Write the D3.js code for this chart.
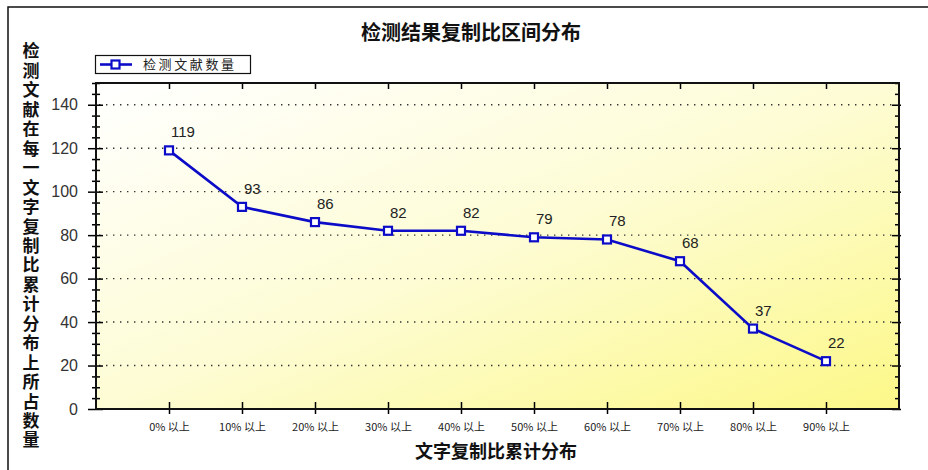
<!DOCTYPE html>
<html>
<head>
<meta charset="utf-8">
<script src="https://cdn.jsdelivr.net/npm/d3@7"></script>
<style>
  body { margin: 0; background: #fff; }
  svg { display: block; }
  text { font-family: "Liberation Sans", Arial, sans-serif; }
  .cjk { font-family: "Noto Sans CJK SC", sans-serif; }
</style>
</head>
<body>
<div id="chart"></div>
<script>
// Data
var categories = ["0% 以上", "10% 以上", "20% 以上", "30% 以上", "40% 以上",
                  "50% 以上", "60% 以上", "70% 以上", "80% 以上", "90% 以上"];
var counts = [119, 93, 86, 82, 82, 79, 78, 68, 37, 22];
var yTicks = [0, 20, 40, 60, 80, 100, 120, 140];
var seriesName = "检测文献数量";
var chartTitle = "检测结果复制比区间分布";
var xTitle = "文字复制比累计分布";
var yTitle = "检测文献在每一文字复制比累计分布上所占数量";

var width = 928, height = 470;
var plot = { left: 96, right: 899, top: 83, bottom: 409 };
var blue = "#0c0cc8";

var svg = d3.select("#chart").append("svg")
  .attr("width", width)
  .attr("height", height);

// outer frame (only left/top edges visible in the crop)
svg.append("rect")
  .attr("x", 8).attr("y", 7)
  .attr("width", width).attr("height", height)
  .attr("fill", "#fff")
  .attr("stroke", "#111")
  .attr("stroke-width", 1.5);

// background gradient of the plot area
var grad = svg.append("defs").append("linearGradient")
  .attr("id", "bg")
  .attr("x1", 0).attr("y1", 0).attr("x2", 1).attr("y2", 1);
grad.append("stop").attr("offset", "0%").attr("stop-color", "#ffffff");
grad.append("stop").attr("offset", "50%").attr("stop-color", "#fdfcd4");
grad.append("stop").attr("offset", "100%").attr("stop-color", "#fcf888");

svg.append("rect")
  .attr("x", plot.left).attr("y", plot.top)
  .attr("width", plot.right - plot.left)
  .attr("height", plot.bottom - plot.top)
  .attr("fill", "url(#bg)");

// scales
var x = d3.scalePoint()
  .domain(categories)
  .range([plot.left, plot.right])
  .padding(1);

var y = d3.scaleLinear()
  .domain([0, 150])
  .range([plot.bottom, plot.top]);

// dotted grid lines
svg.append("g").selectAll("line")
  .data(yTicks.filter(function(d) { return d > 0; }))
  .enter().append("line")
    .attr("x1", plot.left + 3).attr("x2", plot.right - 3)
    .attr("y1", function(d) { return y(d); })
    .attr("y2", function(d) { return y(d); })
    .attr("stroke", "#333")
    .attr("stroke-width", 1.4)
    .attr("stroke-dasharray", "1.4,5.6");

// left axis: major + minor ticks crossing the line
var minorTicks = d3.range(0, 151, 5).filter(function(d) { return d % 20 !== 0; });

var leftMinor = svg.append("g")
  .attr("transform", "translate(" + plot.left + ",0)")
  .call(d3.axisLeft(y).tickValues(minorTicks).tickFormat("").tickSize(4));
leftMinor.selectAll(".tick line").attr("x1", 4).attr("stroke-width", 1.5);
leftMinor.select(".domain").remove();

var leftAxis = svg.append("g")
  .attr("transform", "translate(" + plot.left + ",0)")
  .call(d3.axisLeft(y).tickValues(yTicks).tickSize(8).tickPadding(10));
leftAxis.selectAll(".tick line").attr("x1", 7).attr("stroke-width", 1.5);
leftAxis.select(".domain").remove();
leftAxis.selectAll(".tick text")
  .attr("font-size", 16)
  .attr("fill", "#333")
  .attr("font-family", "Liberation Sans, Arial, sans-serif");

// right axis: inward ticks
var rightMinor = svg.append("g")
  .attr("transform", "translate(" + plot.right + ",0)")
  .call(d3.axisRight(y).tickValues(minorTicks).tickFormat("").tickSize(-4));
rightMinor.select(".domain").remove();
rightMinor.selectAll(".tick line").attr("x1", 1).attr("stroke-width", 1.5);

var rightAxis = svg.append("g")
  .attr("transform", "translate(" + plot.right + ",0)")
  .call(d3.axisRight(y).tickValues(yTicks).tickFormat("").tickSize(-7));
rightAxis.select(".domain").remove();
rightAxis.selectAll(".tick line").attr("x1", 2).attr("stroke-width", 1.5);

// top axis: ticks pointing down
var topAxis = svg.append("g")
  .attr("transform", "translate(0," + plot.top + ")")
  .call(d3.axisTop(x).tickFormat("").tickSize(-6));
topAxis.select(".domain").remove();
topAxis.selectAll(".tick line").attr("stroke-width", 1.5);

// bottom axis: ticks crossing the line
var bottomAxis = svg.append("g")
  .attr("transform", "translate(0," + plot.bottom + ")")
  .call(d3.axisBottom(x).tickSize(5).tickPadding(9));
bottomAxis.select(".domain").remove();
bottomAxis.selectAll(".tick line").attr("y1", -7).attr("stroke-width", 1.5);
bottomAxis.selectAll(".tick text")
  .attr("class", "cjk")
  .attr("font-size", 11)
  .attr("fill", "#222")
  .attr("font-family", "Noto Sans CJK SC, sans-serif");

// plot frame
svg.append("rect")
  .attr("x", plot.left).attr("y", plot.top)
  .attr("width", plot.right - plot.left)
  .attr("height", plot.bottom - plot.top)
  .attr("fill", "none")
  .attr("stroke", "#111")
  .attr("stroke-width", 2);

// series line
var line = d3.line()
  .x(function(d, i) { return x(categories[i]); })
  .y(function(d) { return y(d); });

svg.append("path")
  .datum(counts)
  .attr("d", line)
  .attr("fill", "none")
  .attr("stroke", blue)
  .attr("stroke-width", 2.6);

svg.append("g").selectAll("rect")
  .data(counts)
  .enter().append("rect")
    .attr("x", function(d, i) { return x(categories[i]) - 4; })
    .attr("y", function(d) { return y(d) - 4; })
    .attr("width", 8).attr("height", 8)
    .attr("fill", "#fff")
    .attr("stroke", blue)
    .attr("stroke-width", 2.2);

// value labels
svg.append("g").selectAll("text")
  .data(counts)
  .enter().append("text")
    .attr("x", function(d, i) { return x(categories[i]) + 2; })
    .attr("y", function(d) { return y(d) - 13; })
    .attr("font-size", 15)
    .attr("fill", "#222")
    .text(function(d) { return d; });

// legend
var legend = svg.append("g");
legend.append("rect")
  .attr("x", 95.5).attr("y", 55.5)
  .attr("width", 155).attr("height", 18)
  .attr("fill", "#fff")
  .attr("stroke", "#111")
  .attr("stroke-width", 1.2);
legend.append("line")
  .attr("x1", 100).attr("x2", 132)
  .attr("y1", 64.5).attr("y2", 64.5)
  .attr("stroke", blue).attr("stroke-width", 2.6);
legend.append("rect")
  .attr("x", 111.5).attr("y", 60.5)
  .attr("width", 8).attr("height", 8)
  .attr("fill", "#fff")
  .attr("stroke", blue).attr("stroke-width", 2.2);
legend.append("text")
  .attr("class", "cjk")
  .attr("x", 143).attr("y", 69)
  .attr("font-size", 13)
  .attr("letter-spacing", 2.6)
  .attr("fill", "#222")
  .text(seriesName);

// title
svg.append("text")
  .attr("class", "cjk")
  .attr("x", 471).attr("y", 40)
  .attr("text-anchor", "middle")
  .attr("font-size", 20)
  .attr("font-weight", "bold")
  .attr("fill", "#111")
  .text(chartTitle);

// x axis title
svg.append("text")
  .attr("class", "cjk")
  .attr("x", 496).attr("y", 458)
  .attr("text-anchor", "middle")
  .attr("font-size", 18)
  .attr("font-weight", "bold")
  .attr("fill", "#111")
  .text(xTitle);

// y axis title, written top to bottom as one vertical text
svg.append("text")
  .attr("class", "cjk")
  .attr("x", 31)
  .attr("y", 42.5)
  .style("writing-mode", "vertical-rl")
  .style("text-orientation", "upright")
  .attr("letter-spacing", 2.45)
  .attr("font-size", 17)
  .attr("font-weight", "bold")
  .attr("fill", "#111")
  .text(yTitle);
</script>
</body>
</html>
